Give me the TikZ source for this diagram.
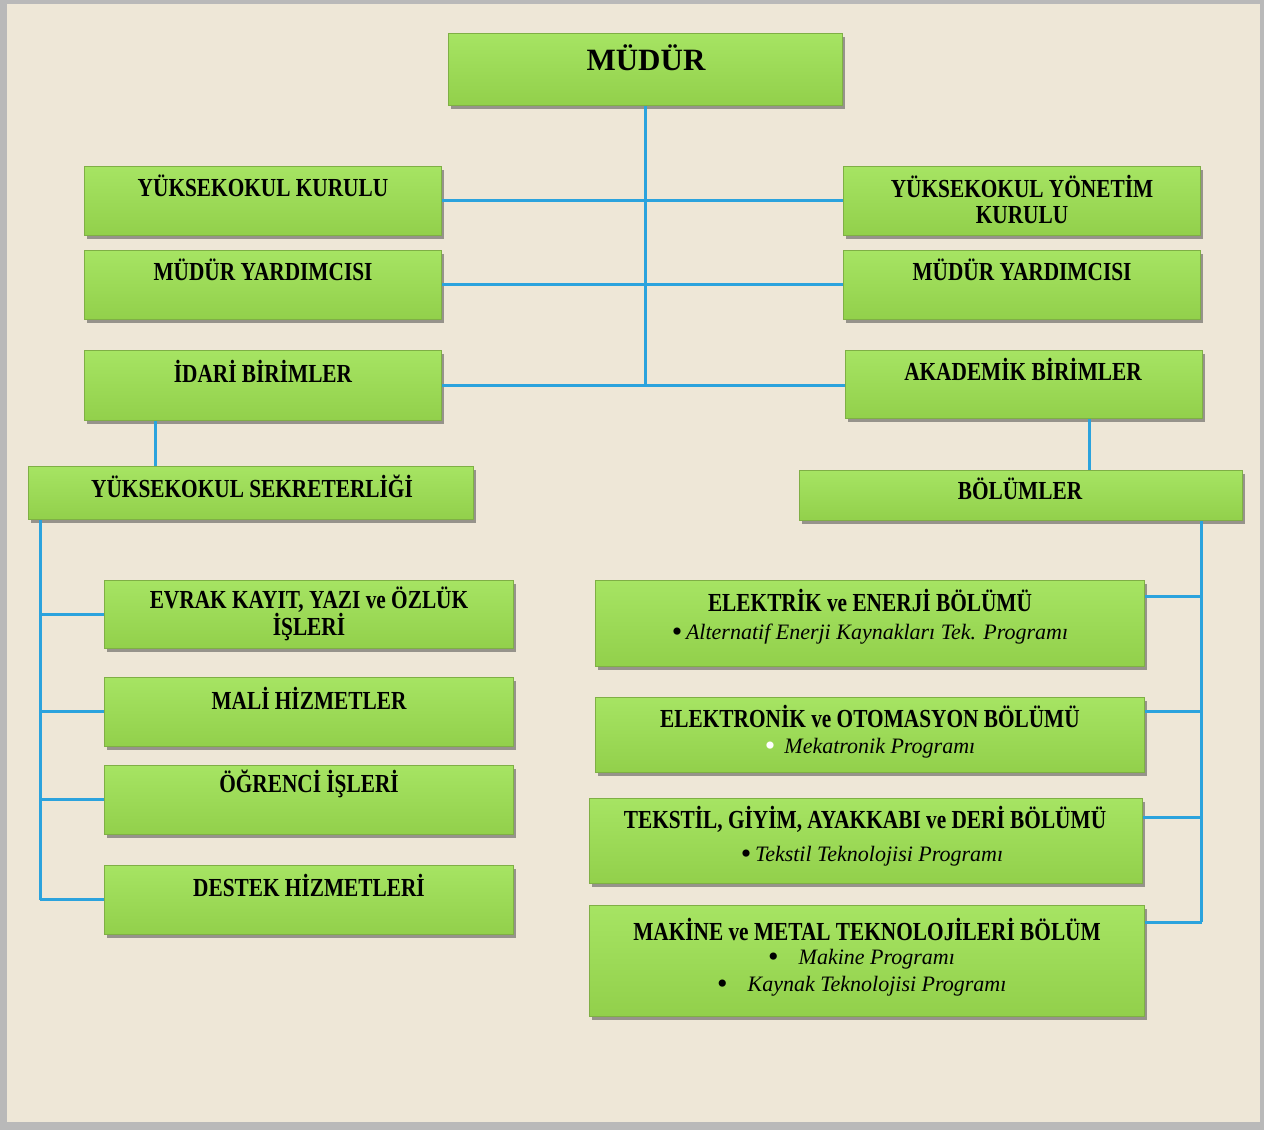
\documentclass[tikz,border=0pt]{standalone}
\usepackage{fontspec}
\setmainfont{Liberation Serif}
\newfontfamily\orgfont{Liberation Serif}[FakeStretch=0.82]
\usetikzlibrary{shadows}
\definecolor{bgc}{HTML}{EEE7D7}
\definecolor{gtop}{HTML}{A6E463}
\definecolor{gbot}{HTML}{92D04B}
\definecolor{gedge}{HTML}{7FAF45}
\definecolor{conc}{HTML}{2BA3DD}
\newcommand{\bul}{\raisebox{-2.5pt}{\smash{\upshape\fontsize{30}{30}\selectfont\textbullet}}}
\tikzset{
  box/.style={rectangle, draw=gedge, line width=0.8pt, top color=gtop, bottom color=gbot,
    anchor=north west, inner sep=0pt,
    drop shadow={shadow xshift=3pt, shadow yshift=-4pt, opacity=0.5, fill=black!75}},
  lbl/.style={inner sep=0pt, align=center, font=\orgfont\bfseries\fontsize{26}{26}\selectfont, text=black},
  prg/.style={inner sep=0pt, font=\itshape\fontsize{22}{26}\selectfont, text=black},
  conn/.style={draw=conc, line width=3pt}
}
\begin{document}
\begin{tikzpicture}[x=1pt,y=-1pt]
\useasboundingbox (0,0) rectangle (1264,1130);
\fill[gray!55] (0,0) rectangle (1264,1130);
\fill[bgc] (7,4) rectangle (1260,1122);
% boxes
\node[box, minimum width=394, minimum height=72] (mudur) at (448,33) {};
\node[box, minimum width=357, minimum height=69] (ykurul) at (84,166) {};
\node[box, minimum width=357, minimum height=69] (yyonet) at (843,166) {};
\node[box, minimum width=357, minimum height=69] (myL) at (84,250) {};
\node[box, minimum width=357, minimum height=69] (myR) at (843,250) {};
\node[box, minimum width=357, minimum height=70] (idari) at (84,350) {};
\node[box, minimum width=357, minimum height=68] (akad) at (845,350) {};
\node[box, minimum width=445, minimum height=53] (sekr) at (28,466) {};
\node[box, minimum width=443, minimum height=50] (bolum) at (799,470) {};
\node[box, minimum width=409, minimum height=68] (evrak) at (104,580) {};
\node[box, minimum width=409, minimum height=69] (mali) at (104,677) {};
\node[box, minimum width=409, minimum height=69] (ogr) at (104,765) {};
\node[box, minimum width=409, minimum height=69] (destek) at (104,865) {};
\node[box, minimum width=549, minimum height=86] (elek) at (595,580) {};
\node[box, minimum width=549, minimum height=75] (elnk) at (595,697) {};
\node[box, minimum width=553, minimum height=85] (teks) at (589,798) {};
\node[box, minimum width=555, minimum height=111] (mak) at (589,905) {};
% labels
\node[inner sep=0pt, font=\bfseries\fontsize{31}{34}\selectfont] (tmudur) at (646,58) {MÜDÜR};
\node[lbl] (t1) at (263,186) {YÜKSEKOKUL KURULU};
\node[lbl] (t2) at (1022,199) {YÜKSEKOKUL YÖNETİM\\KURULU};
\node[lbl] (t3) at (263,270) {MÜDÜR YARDIMCISI};
\node[lbl] (t4) at (1022,270) {MÜDÜR YARDIMCISI};
\node[lbl] (t5) at (263,371) {İDARİ BİRİMLER};
\node[lbl] (t6) at (1023,369) {AKADEMİK BİRİMLER};
\node[lbl] (t7) at (252,486) {YÜKSEKOKUL SEKRETERLİĞİ};
\node[lbl] (t8) at (1020,489) {BÖLÜMLER};
\node[lbl] (t9) at (309,614) {EVRAK KAYIT, YAZI ve ÖZLÜK\\İŞLERİ};
\node[lbl] (t10) at (309,698) {MALİ HİZMETLER};
\node[lbl] (t11) at (309,784) {ÖĞRENCİ İŞLERİ};
\node[lbl] (t12) at (309,885) {DESTEK HİZMETLERİ};
\node[lbl] (t13a) at (870,600) {ELEKTRİK ve ENERJİ BÖLÜMÜ};
\node[prg] (t13b) at (870,634) {\bul\,Alternatif Enerji Kaynakları Tek. Programı};
\node[lbl] (t14a) at (870,716) {ELEKTRONİK ve OTOMASYON BÖLÜMÜ};
\node[prg] (t14b) at (870,748) {{\color{white}\bul}\, Mekatronik Programı};
\node[lbl] (t15a) at (865,819) {TEKSTİL, GİYİM, AYAKKABI ve DERİ BÖLÜMÜ};
\node[prg] (t15b) at (872,856) {\bul\,Tekstil Teknolojisi Programı};
\node[lbl] (t16a) at (867,929) {MAKİNE ve METAL TEKNOLOJİLERİ BÖLÜM};
\node[prg, anchor=west] (t16b) at (768,959) {\bul\hspace{20pt}Makine Programı};
\node[prg, anchor=west] (t16c) at (717,986) {\bul\hspace{20pt}Kaynak Teknolojisi Programı};
% connectors
\coordinate (trunkend) at (mudur.south |- idari.east);
\draw[conn] (mudur.south) -- (trunkend);
\draw[conn] (ykurul.east) -- (yyonet.west);
\draw[conn] (myL.east) -- (myR.west);
\draw[conn] (idari.east) -- (idari.east -| akad.west);
\draw[conn] ([xshift=71pt]idari.south west) -- ([xshift=71pt]idari.south west |- sekr.north);
\draw[conn] ([xshift=-113pt]akad.south east) -- ([xshift=-113pt]akad.south east |- bolum.north);
\coordinate (lsp) at ([xshift=12pt]sekr.south west);
\draw[conn] (lsp) -- (lsp |- destek.west);
\draw[conn] (evrak.west) -- (evrak.west -| lsp);
\draw[conn] (mali.west) -- (mali.west -| lsp);
\draw[conn] (ogr.west) -- (ogr.west -| lsp);
\draw[conn] (destek.west) -- (destek.west -| lsp);
\coordinate (rsp) at ([xshift=-41pt]bolum.south east);
\coordinate (m4) at ([yshift=-17pt]mak.north east);
\draw[conn] (rsp) -- (rsp |- m4);
\draw[conn] ([yshift=-16pt]elek.north east) -- ([yshift=-16pt]elek.north east -| rsp);
\draw[conn] ([yshift=-14pt]elnk.north east) -- ([yshift=-14pt]elnk.north east -| rsp);
\draw[conn] ([yshift=-19pt]teks.north east) -- ([yshift=-19pt]teks.north east -| rsp);
\draw[conn] (m4) -- (m4 -| rsp);
\end{tikzpicture}
\end{document}
